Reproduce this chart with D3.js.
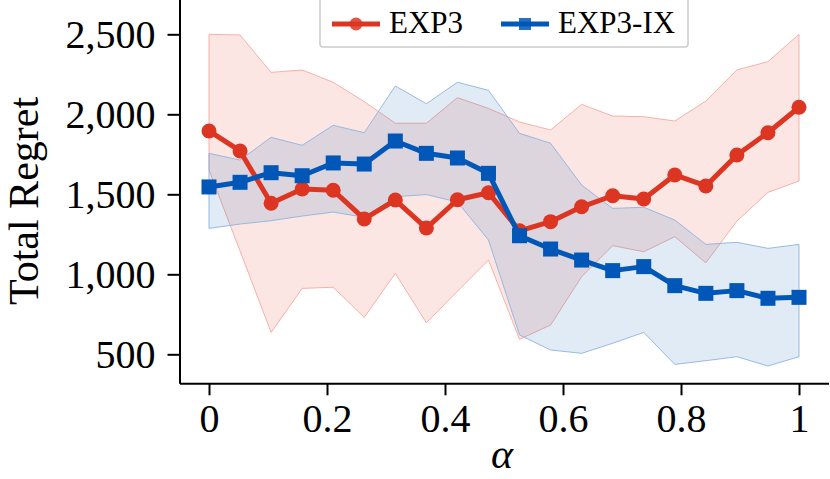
<!DOCTYPE html>
<html>
<head>
<meta charset="utf-8">
<script src="https://cdn.jsdelivr.net/npm/d3@7"></script>
<style>
  html, body { margin: 0; padding: 0; background: #fff; }
  svg { display: block; }
  text { font-family: "Liberation Serif", "DejaVu Serif", serif; fill: #000; }
</style>
</head>
<body>
<svg id="chart" width="830" height="479"></svg>
<script>
// ---- data ----
const alphas = d3.range(20).map(i => i / 19);
const exp3Mean  = [1896, 1771, 1444, 1533, 1525, 1346, 1464, 1289, 1466, 1510, 1272, 1329, 1422, 1491, 1471, 1621, 1552, 1746, 1885, 2044];
const exp3Upper = [2500, 2496, 2262, 2277, 2200, 2079, 1944, 1944, 2104, 2037, 1952, 1902, 2062, 1989, 1985, 1958, 2083, 2277, 2329, 2500];
const exp3Lower = [1652, 1146, 637, 912, 919, 731, 1006, 697, 894, 1089, 594, 683, 985, 1179, 1141, 1235, 1072, 1333, 1512, 1583];
const ixMean    = [1546, 1575, 1635, 1616, 1696, 1689, 1833, 1756, 1727, 1631, 1241, 1158, 1089, 1023, 1048, 929, 881, 898, 850, 856];
const ixUpper   = [1756, 1714, 1856, 1806, 1931, 1885, 2177, 2066, 2200, 2150, 1881, 1819, 1558, 1412, 1419, 1339, 1187, 1200, 1162, 1187];
const ixLower   = [1287, 1314, 1335, 1364, 1389, 1356, 1485, 1498, 1452, 1214, 621, 527, 506, 569, 637, 437, 460, 485, 427, 485];
const xTicks = [0, 0.2, 0.4, 0.6, 0.8, 1];
const xTickLabels = ["0", "0.2", "0.4", "0.6", "0.8", "1"];
const yTicks = [500, 1000, 1500, 2000, 2500];
const yTickLabels = ["500", "1,000", "1,500", "2,000", "2,500"];
const seriesNames = ["EXP3", "EXP3-IX"];

// ---- layout ----
const svg = d3.select("#chart");
const plotLeft = 179.5, plotRight = 828.5, plotTop = 0, plotBottom = 383.3;
const x = d3.scaleLinear().domain([-0.05, 1.05]).range([plotLeft, plotRight]);
const yBase = d3.scaleLinear().domain([500, 2500]).range([354.3, 34.3]);
const y = d3.scaleLinear().domain([yBase.invert(plotBottom), yBase.invert(plotTop - 4)]).range([plotBottom, plotTop - 4]);

const RED = "#dc3522", BLUE = "#0057b7";

const series = [
  { name: seriesNames[0], mean: exp3Mean, lo: exp3Lower, hi: exp3Upper, color: RED, band: "#f6a99f", shape: "circle" },
  { name: seriesNames[1], mean: ixMean, lo: ixLower, hi: ixUpper, color: BLUE, band: "#8fb3df", shape: "square" }
];

const area = d3.area().x((d, i) => x(alphas[i])).y0(d => y(d[0])).y1(d => y(d[1]));
const line = d3.line().x((d, i) => x(alphas[i])).y(d => y(d));

// bands
series.forEach(s => {
  const pts = s.lo.map((v, i) => [v, s.hi[i]]);
  svg.append("path").datum(pts).attr("d", area)
    .attr("fill", s.color).attr("fill-opacity", 0.12)
    .attr("stroke", s.band).attr("stroke-width", 1).attr("stroke-opacity", 0.9);
});

// lines + markers
series.forEach(s => {
  svg.append("path").datum(s.mean).attr("d", line)
    .attr("fill", "none").attr("stroke", s.color).attr("stroke-width", 5)
    .attr("stroke-linejoin", "round");
  const g = svg.append("g");
  if (s.shape === "circle") {
    g.selectAll("circle").data(s.mean).join("circle")
      .attr("cx", (d, i) => x(alphas[i])).attr("cy", d => y(d)).attr("r", 7.5)
      .attr("fill", s.color);
  } else {
    g.selectAll("rect").data(s.mean).join("rect")
      .attr("x", (d, i) => x(alphas[i]) - 7.5).attr("y", d => y(d) - 7.5)
      .attr("width", 15).attr("height", 15).attr("fill", s.color);
  }
});

// axes
const xAxis = d3.axisBottom(x).tickValues(xTicks).tickFormat((d, i) => xTickLabels[i])
  .tickSize(12).tickPadding(8).tickSizeOuter(0);
const gx = svg.append("g").attr("transform", `translate(0,${plotBottom})`).call(xAxis);
gx.select(".domain").attr("stroke", "#000").attr("stroke-width", 2);
gx.selectAll(".tick line").attr("stroke", "#000").attr("stroke-width", 2);
gx.selectAll(".tick text").attr("font-size", 40).attr("font-family", "Liberation Serif").attr("fill", "#000");

const yAxis = d3.axisLeft(y).tickValues(yTicks).tickFormat((d, i) => yTickLabels[i])
  .tickSize(12).tickPadding(12).tickSizeOuter(0);
const gy = svg.append("g").attr("transform", `translate(${plotLeft},0)`).call(yAxis);
gy.select(".domain").attr("stroke", "#000").attr("stroke-width", 2);
gy.selectAll(".tick line").attr("stroke", "#000").attr("stroke-width", 2);
gy.selectAll(".tick text").attr("font-size", 40).attr("font-family", "Liberation Serif").attr("fill", "#000");

// axis labels
svg.append("text").attr("x", (plotLeft + plotRight) / 2 - 2).attr("y", 468)
  .attr("text-anchor", "middle").attr("font-size", 42).attr("font-style", "italic")
  .text("α");
svg.append("text").attr("transform", "translate(38,201) rotate(-90)")
  .attr("text-anchor", "middle").attr("font-size", 42).text("Total Regret");

// legend
const lg = svg.append("g");
lg.append("rect").attr("x", 320).attr("y", -6).attr("width", 368).attr("height", 53)
  .attr("rx", 3).attr("fill", "#fff").attr("fill-opacity", 0.8)
  .attr("stroke", "#cccccc").attr("stroke-width", 1.5);
const legX = [332, 501];
series.forEach((s, k) => {
  const lx = legX[k], ly = 24;
  lg.append("line").attr("x1", lx).attr("x2", lx + 48).attr("y1", ly).attr("y2", ly)
    .attr("stroke", s.color).attr("stroke-width", 5);
  if (s.shape === "circle") {
    lg.append("circle").attr("cx", lx + 24).attr("cy", ly).attr("r", 6.5).attr("fill", s.color).attr("fill-opacity", 0.85);
  } else {
    lg.append("rect").attr("x", lx + 18).attr("y", ly - 6).attr("width", 12).attr("height", 12).attr("fill", s.color).attr("fill-opacity", 0.85);
  }
  lg.append("text").attr("x", lx + 57).attr("y", 33).attr("font-size", 31).text(s.name);
});
</script>
</body>
</html>
